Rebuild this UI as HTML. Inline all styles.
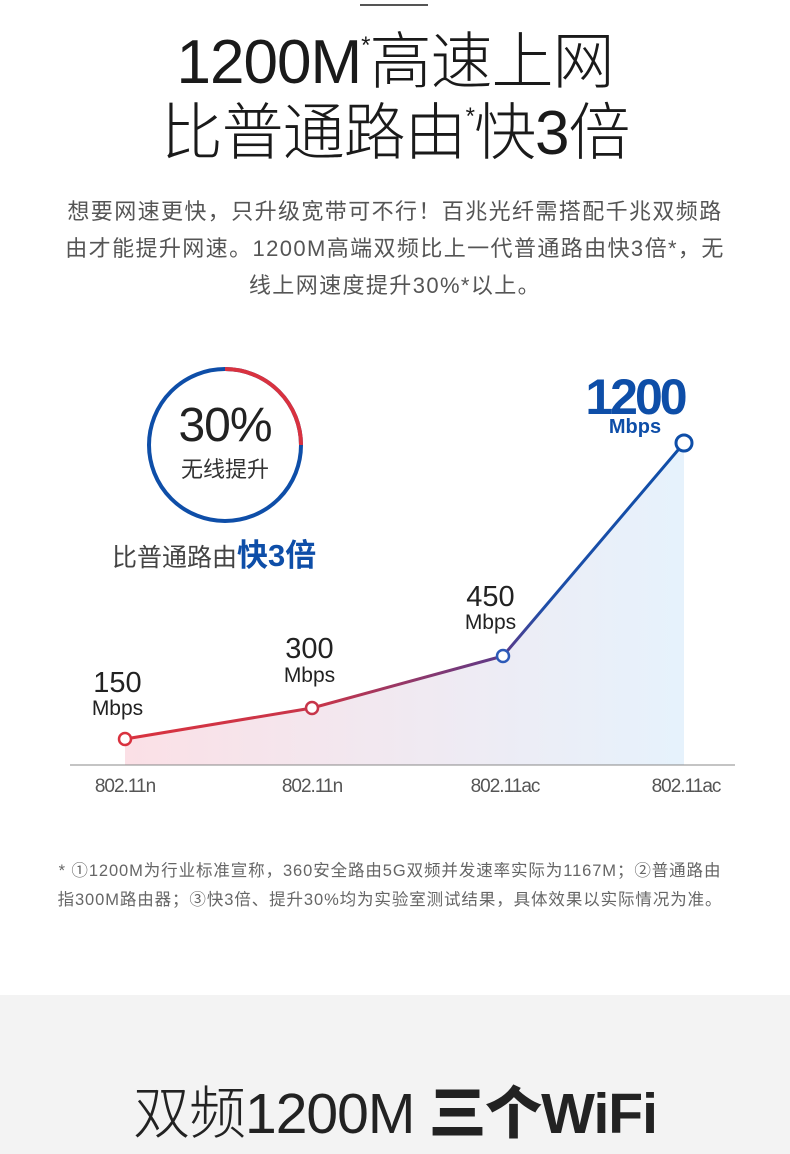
<!DOCTYPE html>
<html><head><meta charset="utf-8"><style>
body{margin:0;width:790px;height:1154px;background:#fff;position:relative;overflow:hidden;font-family:"Liberation Sans","Noto Sans CJK SC",sans-serif;color:#222}
.a{position:absolute;white-space:nowrap}
</style></head><body>
<div class="a" style="left:360px;top:4px;width:68px;height:2px;background:#555"></div>
<div class="a" style="left:0;width:790px;top:26px;text-align:center;font-size:62px;font-weight:300;line-height:74px;color:#1a1a1a;letter-spacing:-1px">1200M<sup style="font-size:24px;vertical-align:top;line-height:40px">*</sup>高速上网</div>
<div class="a" style="left:0;width:790px;top:97px;text-align:center;font-size:62px;font-weight:300;line-height:74px;color:#1a1a1a;letter-spacing:-1px">比普通路由<sup style="font-size:24px;vertical-align:top;line-height:40px">*</sup>快3倍</div>
<div class="a" style="left:0;width:790px;top:193px;text-align:center;font-size:22px;line-height:37px;color:#555;letter-spacing:1.4px">想要网速更快，只升级宽带可不行！百兆光纤需搭配千兆双频路<br>由才能提升网速。1200M高端双频比上一代普通路由快3倍*，无<br>线上网速度提升30%*以上。</div>
<svg class="a" style="left:0;top:0" width="790" height="990">
<defs>
<linearGradient id="f" x1="0" x2="1" y1="0" y2="0"><stop offset="0" stop-color="#fbe0e6"/><stop offset="1" stop-color="#e6f2fc"/></linearGradient>
<linearGradient id="l" x1="125" x2="684" y1="0" y2="0" gradientUnits="userSpaceOnUse"><stop offset="0" stop-color="#d9323f"/><stop offset="0.35" stop-color="#c7354a"/><stop offset="0.68" stop-color="#5a3a8a"/><stop offset="0.75" stop-color="#1f4ea8"/><stop offset="1" stop-color="#0e4ea8"/></linearGradient>
</defs>
<polygon points="125,739 312,708 503,656 684,443 684,765 125,765" fill="url(#f)"/>
<line x1="70" y1="765" x2="735" y2="765" stroke="#888" stroke-width="1"/>
<polyline points="125,739 312,708 503,656 684,443" fill="none" stroke="url(#l)" stroke-width="3"/>
<circle cx="125" cy="739" r="6" fill="#fff" stroke="#d9323f" stroke-width="2.5"/>
<circle cx="312" cy="708" r="6" fill="#fff" stroke="#c7354a" stroke-width="2.5"/>
<circle cx="503" cy="656" r="6" fill="#fff" stroke="#2d5ab8" stroke-width="2.5"/>
<circle cx="684" cy="443" r="8" fill="#fff" stroke="#0e4ea8" stroke-width="3"/>
<circle cx="225" cy="445" r="76" fill="none" stroke="#0e4ea8" stroke-width="4"/>
<path d="M225 369 A76 76 0 0 1 301 445" fill="none" stroke="#d9323f" stroke-width="4"/>
</svg>
<div class="a" style="left:150px;width:150px;top:398px;text-align:center;font-size:48px;color:#222;letter-spacing:-1px">30%</div>
<div class="a" style="left:150px;width:150px;top:452px;text-align:center;font-size:22px;color:#333">无线提升</div>
<div class="a" style="left:112px;top:530px;font-size:25px;color:#444">比普通路由<b style="color:#0e4ea8;font-size:31px">快3倍</b></div>
<div class="a" style="left:575px;width:120px;top:368px;text-align:center;font-size:50px;font-weight:bold;color:#0e4ea8;letter-spacing:-3px">1200</div>
<div class="a" style="left:575px;width:120px;top:416px;text-align:center;font-size:20px;font-weight:bold;color:#0e4ea8">Mbps</div>
<div class="a" style="left:80px;width:75px;top:668px;text-align:center;font-size:29px;line-height:30px">150</div>
<div class="a" style="left:80px;width:75px;top:697px;text-align:center;font-size:21px">Mbps</div>
<div class="a" style="left:272px;width:75px;top:634px;text-align:center;font-size:29px;line-height:30px">300</div>
<div class="a" style="left:272px;width:75px;top:664px;text-align:center;font-size:21px">Mbps</div>
<div class="a" style="left:453px;width:75px;top:582px;text-align:center;font-size:29px;line-height:30px">450</div>
<div class="a" style="left:453px;width:75px;top:611px;text-align:center;font-size:21px">Mbps</div>
<div class="a" style="left:75px;width:100px;top:776px;text-align:center;font-size:19px;color:#555;letter-spacing:-1px">802.11n</div>
<div class="a" style="left:262px;width:100px;top:776px;text-align:center;font-size:19px;color:#555;letter-spacing:-1px">802.11n</div>
<div class="a" style="left:455px;width:100px;top:776px;text-align:center;font-size:19px;color:#555;letter-spacing:-1px">802.11ac</div>
<div class="a" style="left:636px;width:100px;top:776px;text-align:center;font-size:19px;color:#555;letter-spacing:-1px">802.11ac</div>
<div class="a" style="left:0;width:780px;top:857px;text-align:center;font-size:16.5px;line-height:29px;color:#666;letter-spacing:0.9px">* ①1200M为行业标准宣称，360安全路由5G双频并发速率实际为1167M；②普通路由<br>指300M路由器；③快3倍、提升30%均为实验室测试结果，具体效果以实际情况为准。</div>
<div class="a" style="left:0;top:995px;width:790px;height:159px;background:#f3f3f3"></div>
<div class="a" style="left:0;width:790px;top:1068px;text-align:center;font-size:57px;font-weight:300;color:#222;letter-spacing:-1px">双频1200M <b style="font-weight:900">三个WiFi</b></div>
</body></html>
